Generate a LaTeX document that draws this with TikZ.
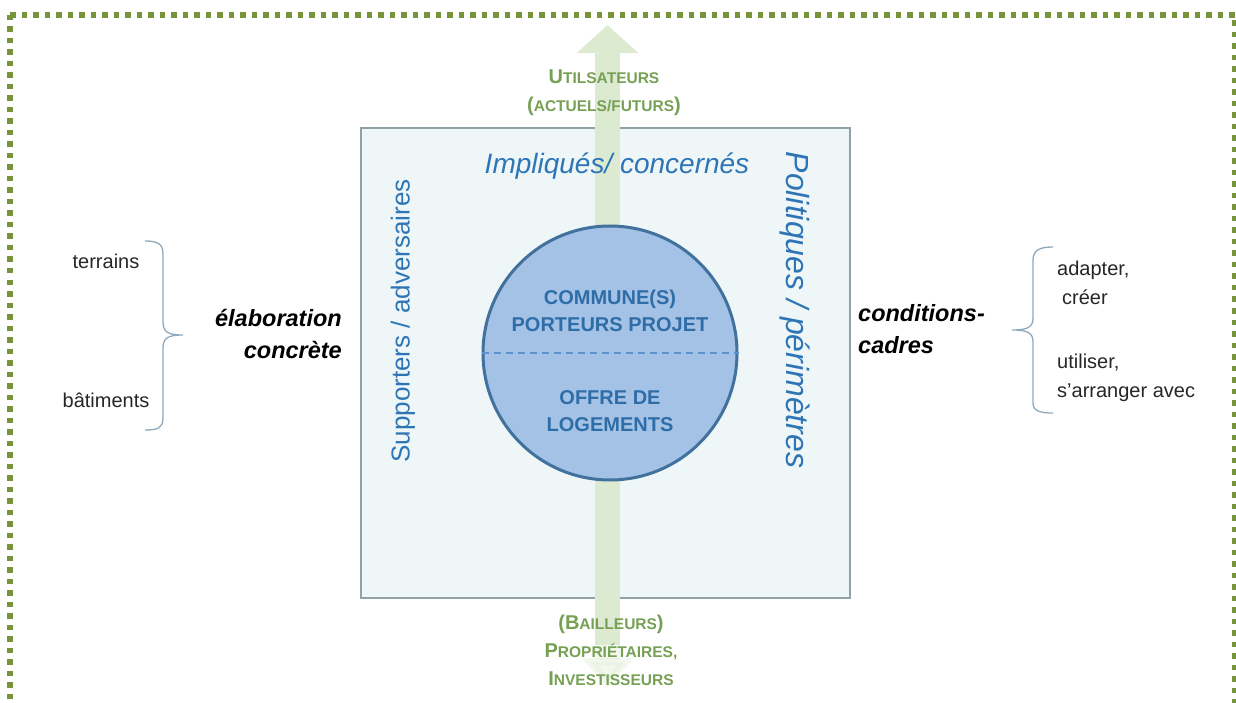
\documentclass[tikz,border=0pt]{standalone}
\usepackage{fontspec}
\setmainfont{Liberation Sans}
\usetikzlibrary{arrows.meta}

\definecolor{vertcadre}{HTML}{77933C}
\definecolor{vertfleche}{HTML}{DCEAD1}
\definecolor{verttexte}{HTML}{76A054}
\definecolor{fondcarre}{HTML}{EEF6F8}
\definecolor{bordcarre}{HTML}{8FA2A8}
\definecolor{fondrond}{HTML}{A3C2E6}
\definecolor{bordrond}{HTML}{41719C}
\definecolor{tiretrond}{HTML}{5E92CF}
\definecolor{bleutexte}{HTML}{2E75B6}
\definecolor{bleurond}{HTML}{2F6DA8}
\definecolor{accol}{HTML}{8EA9BC}

\newcommand{\petit}{\fontsize{15.5}{15.5}\selectfont}

\begin{document}
\begin{tikzpicture}
  [x=1pt,y=-1pt,
   pointille/.style={draw=vertcadre,line width=5.5pt,dash pattern=on 5.5pt off 6pt},
   carre/.style={draw=bordcarre,fill=fondcarre,line width=2pt,minimum width=489pt,minimum height=470pt},
   fleche/.style={draw=vertfleche,line width=25pt,-{Triangle[width=60pt,length=28pt]}},
   rond/.style={circle,draw=bordrond,fill=fondrond,line width=3pt,minimum size=254pt},
   tirets/.style={draw=tiretrond,line width=2.5pt,dash pattern=on 7pt off 5pt},
   noyau/.style={inner sep=0pt,align=center,text=bleurond,font=\fontsize{20}{27}\selectfont\bfseries},
   acteur/.style={inner sep=0pt,align=center,text=verttexte,font=\fontsize{20}{28}\selectfont\bfseries},
   axe/.style={inner sep=0pt,text=bleutexte},
   txt/.style={inner sep=0pt,text=black!85,font=\fontsize{20}{29}\selectfont},
   gras/.style={inner sep=0pt,font=\fontsize{23.5}{32}\selectfont\bfseries\itshape},
   accolade/.style={draw=accol,line width=1.3pt}]
  \useasboundingbox (0,0) rectangle (1236,703);

  % cadre vert
  \draw[pointille] (10,15) -- (10,740);
  \draw[pointille] (10,15) -- (1235,15) -- (1235,740);

  % carre, fleche, rond
  \node[carre] (carre) at (605.5,363) {};
  \coordinate (pied) at (607.5,645);
  \coordinate (sommet) at (607.5,25);
  \draw[fleche] (pied) -- (sommet);
  \coordinate (bas) at (607.5,688);
  \draw[fleche,opacity=.35,-{Triangle[width=50pt,length=30pt]}] (pied) -- (bas);
  \node[rond] (rond) at (610,353) {};
  \draw[tirets] (rond.west) -- (rond.east);

  \node[noyau] (porteurs) at (610,311) {COMMUNE(S)\\PORTEURS PROJET};
  \node[noyau] (offre) at (610,411) {OFFRE DE\\LOGEMENTS};

  % acteurs
  \node[acteur] (usagers) at (604,93) {U{\petit TILSATEURS}\\({\petit ACTUELS/FUTURS})};
  \node[acteur] (bailleurs) at (611,650) {(B{\petit AILLEURS})\\P{\petit ROPRIÉTAIRES,}\\I{\petit NVESTISSEURS}};

  \node[axe,font=\fontsize{28}{28}\selectfont\itshape] (impl) at (617,166) {Impliqués/ concernés};
  \node[axe,rotate=90,font=\fontsize{26}{26}\selectfont] (supp) at (403,321) {Supporters / adversaires};
  \node[axe,rotate=-90,font=\fontsize{32}{32}\selectfont\itshape] (poli) at (795,310) {Politiques / périmètres};

  % gauche
  \node[txt] (terrains) at (106,261) {terrains};
  \node[txt] (batiments) at (106,400) {bâtiments};
  \draw[accolade] (145,241) .. controls (158,241) and (163,244) .. (163,254) -- (163,322)
    .. controls (163,332) and (168,335) .. (183,335) .. controls (168,335) and (163,338) .. (163,348)
    -- (163,418) .. controls (163,428) and (158,430) .. (145,430);
  \node[gras,anchor=east,align=right] (elab) at (342,334) {élaboration\\concrète};

  % droite
  \node[gras,anchor=west,align=left] (cond) at (858,329) {conditions-\\cadres};
  \draw[accolade] (1053,247) .. controls (1040,247) and (1033,250) .. (1033,260) -- (1033,318)
    .. controls (1033,327) and (1028,330) .. (1012,330) .. controls (1028,330) and (1033,333) .. (1033,342)
    -- (1033,403) .. controls (1033,411) and (1040,413) .. (1053,413);
  \node[txt,anchor=west,align=left] (adapter) at (1057,283) {adapter,\\\hspace*{5pt}créer};
  \node[txt,anchor=west,align=left] (utiliser) at (1057,378) {utiliser,\\s’arranger avec};
\end{tikzpicture}
\end{document}
